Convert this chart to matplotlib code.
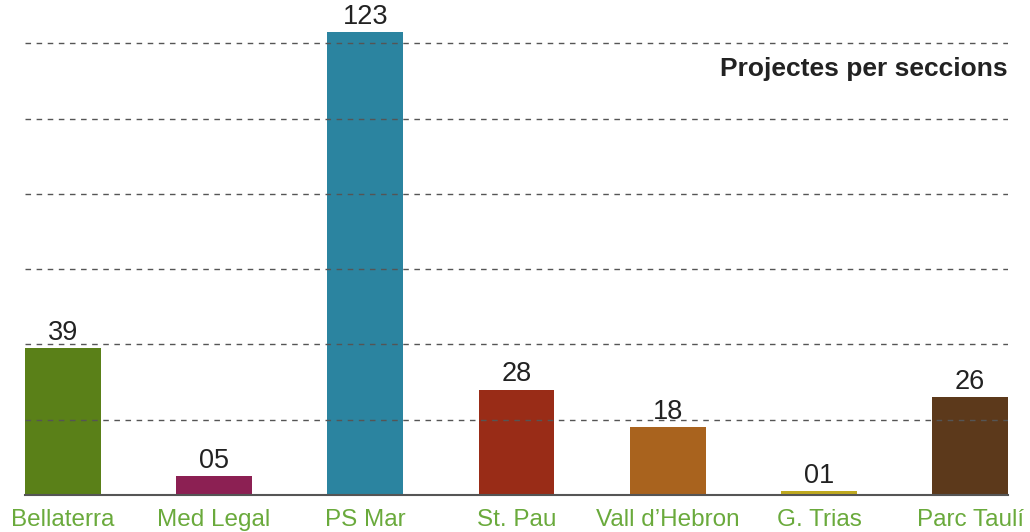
import matplotlib.pyplot as plt
import matplotlib

# dades
seccions = ['Bellaterra', 'Med Legal', 'PS Mar', 'St. Pau', 'Vall d\u2019Hebron', 'G. Trias', 'Parc Taul\u00ed']
projectes = [39, 5, 123, 28, 18, 1, 26]
etiquetes = ['39', '05', '123', '28', '18', '01', '26']
colors = ['#5a8018', '#8c2053', '#2b84a0', '#992c17', '#a9631e', '#bfa91f', '#5c391b']

matplotlib.rcParams['font.family'] = ['Liberation Sans', 'DejaVu Sans']

fig = plt.figure(figsize=(10.30, 5.32), dpi=100)
ax = fig.add_axes([25 / 1030, 37 / 532, 983 / 1030, 485 / 532])

x = range(len(seccions))
ax.bar(x, projectes, width=0.5, color=colors, zorder=1)

for i, (v, txt) in enumerate(zip(projectes, etiquetes)):
    ax.annotate(txt, (i, v), xytext=(0, 1.5), textcoords='offset points',
                ha='center', va='bottom', fontsize=19.5, color='#222222', zorder=3)

ax.set_xlim(-0.25, 6.25)
ax.set_ylim(0, 485 / 3.765)
ax.set_yticks([20, 40, 60, 80, 100, 120])
ax.set_axisbelow(False)
ax.yaxis.grid(True, linestyle=(0, (4, 4)), color='#555555', linewidth=1, zorder=2)
ax.tick_params(axis='y', left=False, labelleft=False)
ax.set_xticks(list(x))
ax.set_xticklabels(seccions, fontsize=17.5, color='#6aaa3c')
ax.tick_params(axis='x', length=0, pad=10)

for s in ['top', 'right', 'left']:
    ax.spines[s].set_visible(False)
ax.spines['bottom'].set_color('#555555')
ax.spines['bottom'].set_linewidth(1.5)

ax.text(1.0, 0.878, 'Projectes per seccions', transform=ax.transAxes, ha='right', va='center',
        fontsize=19, fontweight='bold', color='#222222')

fig.savefig('out.png', dpi=100)
